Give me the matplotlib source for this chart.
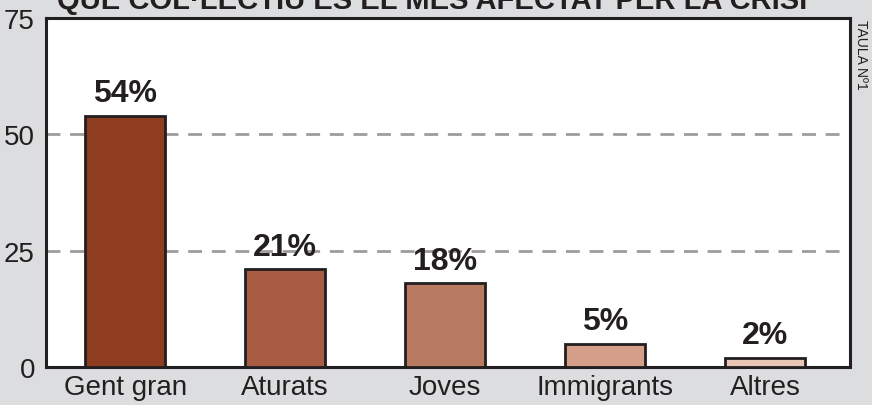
import matplotlib
matplotlib.use("Agg")
import matplotlib.pyplot as plt

categories = ["Gent gran", "Aturats", "Joves", "Immigrants", "Altres"]
values = [54, 21, 18, 5, 2]
labels = ["54%", "21%", "18%", "5%", "2%"]
colors = ["#8E3D21", "#A75C43", "#B97A62", "#D39F89", "#E8C5B5"]
yticks = [0, 25, 50, 75]
title = "QUÈ COL·LECTIU ÉS EL MÉS AFECTAT PER LA CRISI"

plt.rcParams['font.family'] = ['Liberation Sans', 'DejaVu Sans']

W, H = 872, 406
fig = plt.figure(figsize=(W / 100, H / 100), dpi=100, facecolor="#DCDDDF")
ax = fig.add_axes([46 / W, 1 - 368 / H, (850 - 46) / W, (368 - 19) / H])
ax.set_facecolor("white")

x = list(range(len(categories)))
ax.set_xlim(-0.495, 4.53)
ax.set_ylim(0, 75)

for y in [25, 50]:
    ax.axhline(y, color="#A09C9B", lw=2, ls=(0, (5, 3.5)), zorder=1)

ax.bar(x, values, width=0.5, color=colors, edgecolor="#231F20", linewidth=2, zorder=3)

for xi, v, lab in zip(x, values, labels):
    ax.text(xi, v + 3.1, lab, ha="center", va="baseline", fontsize=23,
            fontweight="bold", color="#231F20", zorder=4)

for s in ax.spines.values():
    s.set_color("#231F20")
    s.set_linewidth(2.2)

ax.set_xticks(x)
ax.set_xticklabels(categories, fontsize=20, color="#231F20")
ax.set_yticks(yticks)
ax.set_yticklabels([str(t) for t in yticks], fontsize=20, color="#231F20")
ax.tick_params(axis="both", length=0, pad=8)
ax.tick_params(axis="x", pad=5)

fig.text(432 / W, 1 - 9 / H, title, ha="center", va="baseline", fontsize=21,
         fontweight="bold", color="#231F20")
fig.text(861 / W, 1 - 20 / H, "TAULA Nº1", ha="center", va="top", rotation=-90,
         fontsize=10, color="#231F20")

fig.savefig("out.png", dpi=100, facecolor=fig.get_facecolor())
